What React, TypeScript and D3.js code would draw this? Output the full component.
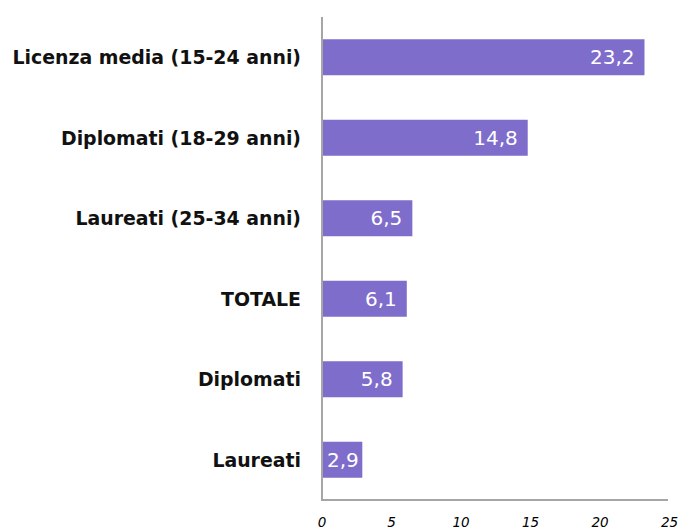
import React from "react";
import * as d3 from "d3";

const categories = [
  "Licenza media (15-24 anni)",
  "Diplomati (18-29 anni)",
  "Laureati (25-34 anni)",
  "TOTALE",
  "Diplomati",
  "Laureati",
];
const values = [23.2, 14.8, 6.5, 6.1, 5.8, 2.9];
const ticks = [0, 5, 10, 15, 20, 25];

const W = 678;
const H = 529;
const X0 = 322;
const X1 = 669.5;
const Y0 = 17;
const Y1 = 500;

export default function App() {
  const x = d3.scaleLinear().domain([0, 25]).range([X0, X1]);
  const y = d3.scaleBand<string>().domain(categories).range([Y0, Y1]).padding(0);
  const bh = 36;
  const fmt = (v: number) => v.toFixed(1).replace(".", ",");
  return (
    <svg
      width={W}
      height={H}
      style={{ position: "absolute", left: 0, top: 0, background: "#fff" }}
    >
      {categories.map((c, i) => {
        const cy = (y(c) as number) + y.bandwidth() / 2;
        const xe = x(values[i]);
        const small = xe - X0 < 55;
        return (
          <g key={c}>
            <rect x={X0} y={cy - bh / 2} width={xe - X0} height={bh} fill="#7f6dcc" />
            <text
              x={301}
              y={cy}
              dy="0.36em"
              textAnchor="end"
              fontFamily="DejaVu Sans"
              fontWeight="bold"
              fontSize={18.9}
              fill="#111"
            >
              {c}
            </text>
            <text
              x={small ? X0 + 5 : xe - 10}
              y={cy}
              dy="0.36em"
              textAnchor={small ? "start" : "end"}
              fontFamily="DejaVu Sans"
              fontSize={20}
              fill="#fff"
            >
              {fmt(values[i])}
            </text>
          </g>
        );
      })}
      <line x1={X0} x2={X0} y1={Y0} y2={Y1} stroke="#a6a6a6" strokeWidth={2} />
      <line x1={X0 - 1} x2={668} y1={Y1} y2={Y1} stroke="#a6a6a6" strokeWidth={2} />
      {ticks.map((t) => (
        <text
          key={t}
          x={x(t)}
          y={527}
          textAnchor="middle"
          fontFamily="DejaVu Sans"
          fontStyle="italic"
          fontSize={13.5}
          fill="#000"
        >
          {t}
        </text>
      ))}
    </svg>
  );
}
